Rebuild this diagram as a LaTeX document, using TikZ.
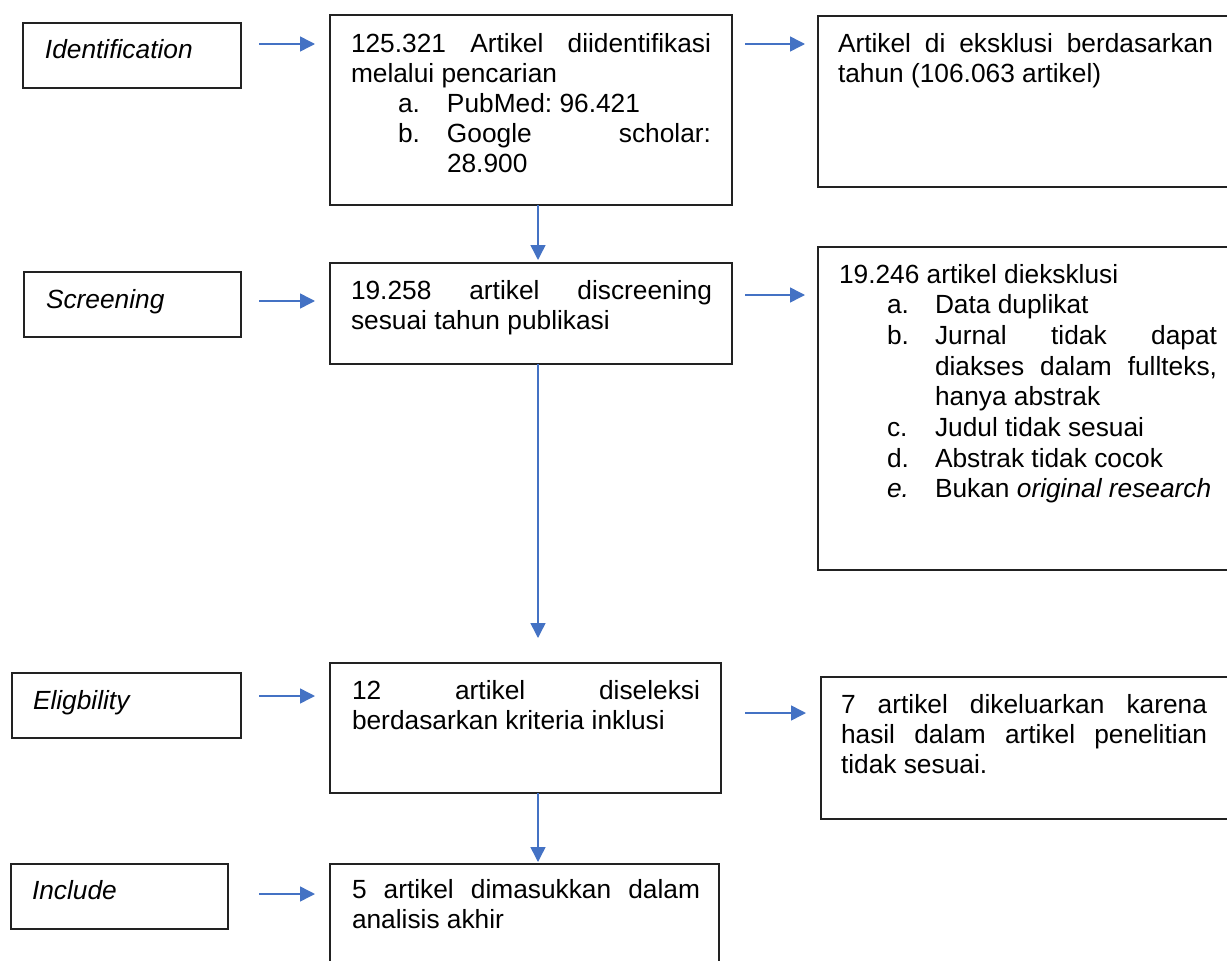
\documentclass[tikz,border=0pt]{standalone}
\usepackage{fontspec}
\setmainfont{Liberation Sans}
\usetikzlibrary{arrows.meta}
\definecolor{arrblue}{HTML}{4472C4}
\definecolor{boxline}{HTML}{222222}
\begin{document}
\begin{tikzpicture}[x=1pt,y=-1pt,
  box/.style={draw=boxline, line width=1.3pt, anchor=north west, inner sep=0pt, outer sep=0pt},
  txt/.style={anchor=base west, inner sep=0pt, outer sep=0pt, align=justify,
    font=\fontsize{26.3}{30.4}\selectfont},
  lbl/.style={anchor=base west, inner sep=0pt, outer sep=0pt,
    font=\fontsize{26.3}{30.4}\selectfont\itshape},
  arr/.style={draw=arrblue, line width=1.5pt, -{Triangle[length=15pt,width=15pt]}}]
\useasboundingbox (0,0) rectangle (1227,961);
\newcommand\jpar{\parindent=0pt\frenchspacing\tolerance=10000\hyphenpenalty=10000\exhyphenpenalty=10000\emergencystretch=40pt}
\newcommand\litem[2]{\par\hangindent=96pt\hangafter=1\hspace*{47pt}\makebox[49pt][l]{#1}#2\par}
\newcommand\ritem[2]{\par\hangindent=96pt\hangafter=1\hspace*{48pt}\makebox[48pt][l]{#1}#2\par}
% left stage labels
\node[box, minimum width=218pt, minimum height=65pt] (ident) at (23,23) {};
\node[lbl] (identt) at (45,58) {Identification};
\node[box, minimum width=217pt, minimum height=65pt] (screen) at (24,272) {};
\node[lbl] (screent) at (46,308) {Screening};
\node[box, minimum width=229pt, minimum height=65pt] (elig) at (12,673) {};
\node[lbl] (eligt) at (33,709) {Eligbility};
\node[box, minimum width=217pt, minimum height=65pt] (incl) at (11,864) {};
\node[lbl] (inclt) at (32,899) {Include};
% main column
\node[box, minimum width=402pt, minimum height=190pt] (b1) at (330,15) {};
\node[txt, text width=360pt] (b1t) at (351,52) {\jpar\baselineskip=30pt
125.321 Artikel diidentifikasi melalui pencarian
\litem{a.}{PubMed: 96.421}
\litem{b.}{Google scholar: 28.900}};
\node[box, minimum width=402pt, minimum height=101pt] (b2) at (330,263) {};
\node[txt, text width=361pt] (b2t) at (351,299) {\jpar 19.258 artikel discreening sesuai tahun publikasi};
\node[box, minimum width=391pt, minimum height=130pt] (b3) at (330,663) {};
\node[txt, text width=348pt] (b3t) at (352,699) {\jpar 12 artikel diseleksi berdasarkan kriteria inklusi};
\node[box, minimum width=389pt, minimum height=120pt] (b4) at (330,864) {};
\node[txt, text width=348pt] (b4t) at (352,898) {\jpar 5 artikel dimasukkan dalam analisis akhir};
% right column
\node[box, minimum width=430pt, minimum height=171pt] (r1) at (818,16) {};
\node[txt, text width=375pt] (r1t) at (838,52) {\jpar Artikel di eksklusi berdasarkan tahun (106.063 artikel)};
\node[box, minimum width=430pt, minimum height=323pt] (r2) at (818,247) {};
\node[txt, text width=378pt] (r2t) at (839,283) {\jpar\baselineskip=30.7pt
19.246 artikel dieksklusi
\ritem{a.}{Data duplikat}
\ritem{b.}{Jurnal tidak dapat diakses dalam fullteks, hanya abstrak}
\ritem{c.}{Judul tidak sesuai}
\ritem{d.}{Abstrak tidak cocok}
\ritem{\textit{e.}}{Bukan \textit{original research}}};
\node[box, minimum width=430pt, minimum height=142pt] (r3) at (821,677) {};
\node[txt, text width=366pt] (r3t) at (841,713) {\jpar 7 artikel dikeluarkan karena hasil dalam artikel penelitian tidak sesuai.};
% arrow end points
\coordinate (l1s) at (259,44);  \coordinate (l1e) at (315,44);
\coordinate (l2s) at (259,301); \coordinate (l2e) at (315,301);
\coordinate (l3s) at (259,696); \coordinate (l3e) at (315,696);
\coordinate (l4s) at (259,894); \coordinate (l4e) at (315,894);
\coordinate (m1s) at (745,44);  \coordinate (m1e) at (805,44);
\coordinate (m2s) at (745,295); \coordinate (m2e) at (805,295);
\coordinate (m3s) at (745,713); \coordinate (m3e) at (806,713);
\coordinate (vx) at (538,0);
\coordinate (v2e) at (538,638);
% connectors
\draw[arr] (b1.south -| vx) -- ([yshift=3pt]b2.north -| vx);
\draw[arr] (b2.south -| vx) -- (v2e);
\draw[arr] (b3.south -| vx) -- ([yshift=2pt]b4.north -| vx);
\draw[arr] (l1s) -- (l1e);
\draw[arr] (l2s) -- (l2e);
\draw[arr] (l3s) -- (l3e);
\draw[arr] (l4s) -- (l4e);
\draw[arr] (m1s) -- (m1e);
\draw[arr] (m2s) -- (m2e);
\draw[arr] (m3s) -- (m3e);
\end{tikzpicture}
\end{document}
